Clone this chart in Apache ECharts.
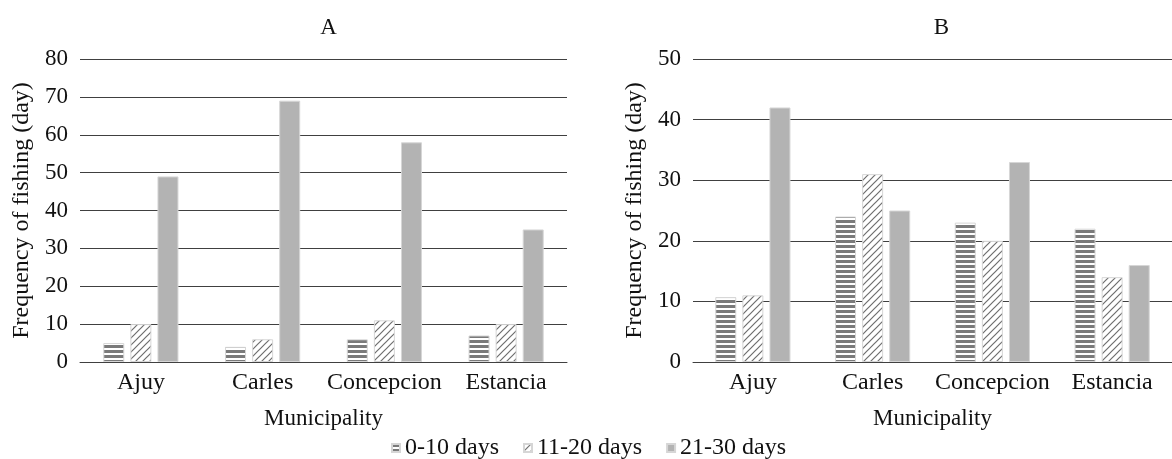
<!DOCTYPE html>
<html>
<head>
<meta charset="utf-8">
<script src="https://cdn.jsdelivr.net/npm/echarts@6/dist/echarts.min.js"></script>
<style>
html,body{margin:0;padding:0;background:#fff;}
#chart{width:1172px;height:459px;}
</style>
</head>
<body>
<div id="chart"></div>
<script>
const categories = ['Ajuy', 'Carles', 'Concepcion', 'Estancia'];
const seriesNames = ['0-10 days', '11-20 days', '21-30 days'];
const panelTitles = ['A', 'B'];
const yAxisTitle = 'Frequency of fishing (day)';
const xAxisTitle = 'Municipality';

const A_0_10 = [5, 4, 6, 7];
const A_11_20 = [10, 6, 11, 10];
const A_21_30 = [49, 69, 58, 35];

const B_0_10 = [10.7, 24, 23, 22];
const B_11_20 = [11, 31, 20, 14];
const B_21_30 = [42, 25, 33, 16];

const A_yTicks = { min: 0, max: 80, interval: 10 };
const B_yTicks = { min: 0, max: 50, interval: 10 };

function stripePattern() {
  const c = document.createElement('canvas');
  c.width = 8; c.height = 5;
  const g = c.getContext('2d');
  g.fillStyle = '#ffffff'; g.fillRect(0, 0, 8, 5);
  g.fillStyle = '#7a7a7a'; g.fillRect(0, 0, 8, 3);
  return { image: c, repeat: 'repeat' };
}
function hatchPattern() {
  const s = 7;
  const c = document.createElement('canvas');
  c.width = s; c.height = s;
  const g = c.getContext('2d');
  g.fillStyle = '#ffffff'; g.fillRect(0, 0, s, s);
  g.strokeStyle = '#6e6e6e'; g.lineWidth = 1.2;
  g.beginPath();
  g.moveTo(-1, s + 1); g.lineTo(s + 1, -1);
  g.moveTo(-1, 1); g.lineTo(1, -1);
  g.moveTo(s - 1, s + 1); g.lineTo(s + 1, s - 1);
  g.stroke();
  return { image: c, repeat: 'repeat' };
}
const fills = [stripePattern(), hatchPattern(), '#b3b3b3'];

const FONT = 'Liberation Serif';
function txt(size) { return { fontFamily: FONT, fontSize: size, color: '#111' }; }

const chart = echarts.init(document.getElementById('chart'), null, { renderer: 'canvas' });

function xAxisFor(i) {
  return {
    type: 'category', gridIndex: i, data: categories,
    axisTick: { show: false },
    axisLine: { show: true, lineStyle: { color: '#404040', width: 1 } },
    axisLabel: Object.assign({ margin: 9, interval: 0 }, txt(24)),
    name: xAxisTitle, nameLocation: 'middle', nameGap: 45,
    nameTextStyle: txt(23)
  };
}
function yAxisFor(i, t) {
  return {
    type: 'value', gridIndex: i, min: t.min, max: t.max, interval: t.interval,
    axisLine: { show: false }, axisTick: { show: false },
    axisLabel: Object.assign({ margin: 12 }, txt(23)),
    splitLine: { show: true, lineStyle: { color: '#404040', width: 1 } },
    name: yAxisTitle, nameLocation: 'middle', nameGap: 46, nameRotate: 90,
    nameTextStyle: txt(24)
  };
}
function barSeries(name, data, idx, gi) {
  return {
    type: 'bar', name: name, data: data,
    xAxisIndex: gi, yAxisIndex: gi,
    barWidth: 21, barGap: '29%',
    itemStyle: { color: fills[idx], borderColor: '#d6d6d6', borderWidth: 1 },
    emphasis: { disabled: true },
    animation: false
  };
}

const option = {
  backgroundColor: '#ffffff',
  animation: false,
  title: [
    { text: panelTitles[0], left: 323.5, top: 11, textAlign: 'center', textStyle: Object.assign({ fontWeight: 'normal' }, txt(23)) },
    { text: panelTitles[1], left: 936.5, top: 11, textAlign: 'center', textStyle: Object.assign({ fontWeight: 'normal' }, txt(23)) }
  ],
  legend: {
    data: seriesNames,
    left: 386, top: 431,
    itemWidth: 8, itemHeight: 8, itemGap: 24,
    icon: 'rect',
    textStyle: Object.assign({ padding: [0, 0, 0, 0] }, txt(24))
  },
  grid: [
    { left: 80, top: 59, width: 487, height: 303 },
    { left: 693, top: 59, width: 487, height: 303 }
  ],
  xAxis: [xAxisFor(0), xAxisFor(1)],
  yAxis: [yAxisFor(0, A_yTicks), yAxisFor(1, B_yTicks)],
  series: [
    barSeries(seriesNames[0], A_0_10, 0, 0),
    barSeries(seriesNames[1], A_11_20, 1, 0),
    barSeries(seriesNames[2], A_21_30, 2, 0),
    barSeries(seriesNames[0], B_0_10, 0, 1),
    barSeries(seriesNames[1], B_11_20, 1, 1),
    barSeries(seriesNames[2], B_21_30, 2, 1)
  ]
};
chart.setOption(option);
</script>
</body>
</html>
